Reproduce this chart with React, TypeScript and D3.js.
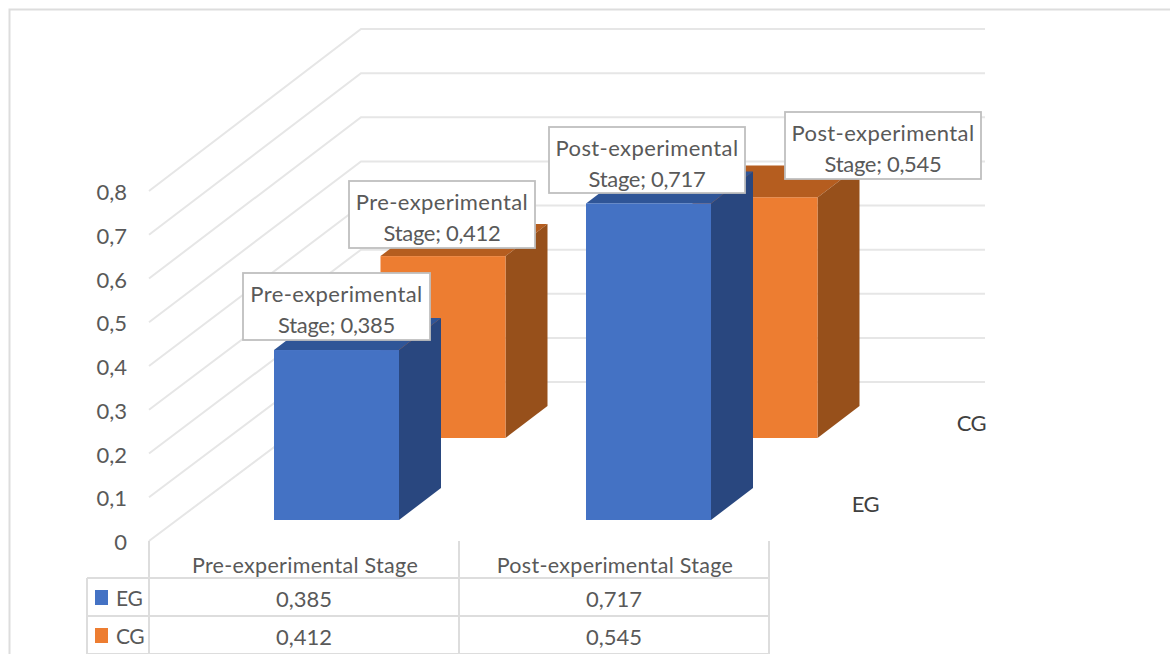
import React from "react";
import * as d3 from "d3";

const categories = ["Pre-experimental Stage", "Post-experimental Stage"];
const seriesNames = ["EG", "CG"];
const egValues = [0.385, 0.717];
const cgValues = [0.412, 0.545];
const yTicks = [0, 0.1, 0.2, 0.3, 0.4, 0.5, 0.6, 0.7, 0.8];
const valueLabels = ["0,385", "0,717"];
const cgValueLabels = ["0,412", "0,545"];
const tickLabels = ["0", "0,1", "0,2", "0,3", "0,4", "0,5", "0,6", "0,7", "0,8"];

const FONT = "Lato, 'Open Sans', sans-serif";
const GRID = "#E6E6E6";
const TEXT = "#595959";
const palette = {
  EG: { front: "#4472C4", top: "#2F5597", side: "#29477F" },
  CG: { front: "#ED7D31", top: "#B55D1F", side: "#97501B" },
} as Record<string, { front: string; top: string; side: string }>;

// layout of the pseudo-3D projection
const wallFront = d3.scaleLinear().domain([0, 0.8]).range([541, 191]);
const wallBack = d3.scaleLinear().domain([0, 0.8]).range([382, 29]);
const barHeight = d3.scaleLinear().domain([0, 1]).range([0, 441.5]);
const catX = d3.scalePoint<string>().domain(categories).range([274, 586]);
const seriesDx = d3.scalePoint<string>().domain(seriesNames).range([0, 106.5]);
const seriesBase = d3.scalePoint<string>().domain(seriesNames).range([520, 438]);
const tableX = d3.scalePoint<string>().domain([...categories, "end"]).range([149, 769]);
const BAR_W = 125;
const DX = 42;
const DY = -32;

// data label boxes: [left, top, right, bottom]
const egBoxes = [[243, 273, 430, 340], [549, 127, 745, 193]];
const cgBoxes = [[349, 181, 535, 248], [785, 112, 981, 179]];

function Bar({ name, cat, value }: { name: string; cat: string; value: number }) {
  const x0 = (catX(cat) as number) + (seriesDx(name) as number);
  const x1 = x0 + BAR_W;
  const yb = seriesBase(name) as number;
  const yt = yb - barHeight(value);
  const c = palette[name];
  const poly = d3.line();
  return (
    <g>
      <path d={poly([[x0, yt], [x1, yt], [x1 + DX, yt + DY], [x0 + DX, yt + DY]]) + "Z"} fill={c.top} />
      <path d={poly([[x1, yt], [x1 + DX, yt + DY], [x1 + DX, yb + DY], [x1, yb]]) + "Z"} fill={c.side} />
      <rect x={x0} y={yt} width={BAR_W} height={yb - yt} fill={c.front} />
    </g>
  );
}

function Label({ box, cat, value }: { box: number[]; cat: string; value: string }) {
  const [l, t, r, b] = box;
  const cx = (l + r) / 2;
  const first = cat.split(" ")[0];
  const second = cat.split(" ")[1] + "; " + value;
  return (
    <g>
      <rect x={l} y={t} width={r - l} height={b - t} fill="#fff" stroke="#BFBFBF" strokeWidth={1.8} />
      <text x={cx} y={t + 29} textAnchor="middle" fontSize={22} letterSpacing={0.4} fill={TEXT}>{first}</text>
      <text x={cx} y={t + 60} textAnchor="middle" fontSize={22} letterSpacing={-0.3} fill={TEXT}>{second}</text>
    </g>
  );
}

export default function App() {
  const xs = [...categories, "end"].map((k) => tableX(k) as number);
  const rowY = [578, 616, 654];
  return (
    <svg width={1170} height={654} viewBox="0 0 1170 654" fontFamily={FONT}
      style={{ position: "fixed", left: 0, top: 0, background: "#fff" }}>
      <path d="M9.5 654V9.5H1170" fill="none" stroke="#DDDDDD" strokeWidth={2} />

      {yTicks.map((t, i) => (
        <g key={t}>
          <path
            d={d3.line()([[149, wallFront(t)], [361, wallBack(t)], [985, wallBack(t)]]) as string}
            fill="none" stroke={GRID} strokeWidth={2} />
          <text x={127} y={wallFront(t) + 9} textAnchor="end" fontSize={22} fill={TEXT}>{tickLabels[i]}</text>
        </g>
      ))}

      {seriesNames.slice().reverse().map((s) => (
        <g key={s}>
          {categories.map((c, i) => (
            <Bar key={c} name={s} cat={c} value={(s === "EG" ? egValues : cgValues)[i]} />
          ))}
        </g>
      ))}

      {/* table */}
      <g stroke="#DDDDDD" strokeWidth={2}>
        {xs.map((x) => <line key={x} x1={x} x2={x} y1={541} y2={654} />)}
        <line x1={87} x2={87} y1={578} y2={654} />
        {rowY.map((y) => <line key={y} x1={87} x2={769} y1={y} y2={y} />)}
      </g>
      {categories.map((c, i) => {
        const cx = (xs[i] + xs[i + 1]) / 2;
        return (
          <g key={c} textAnchor="middle" fontSize={22} fill={TEXT}>
            <text x={cx + 1} y={573} fontSize={21.5} letterSpacing={0.3}>{c}</text>
            <text x={cx} y={607}>{valueLabels[i]}</text>
            <text x={cx} y={645}>{cgValueLabels[i]}</text>
          </g>
        );
      })}
      {seriesNames.map((s, i) => (
        <g key={s}>
          <rect x={95} y={590 + i * 38} width={13} height={15} fill={palette[s].front} />
          <text x={116} y={606 + i * 38} fontSize={21} fill={TEXT} letterSpacing={-0.4}>{s}</text>
        </g>
      ))}

      {/* series axis */}
      <text x={986} y={431} textAnchor="end" fontSize={22} letterSpacing={-0.6} fill="#404040">{seriesNames[1]}</text>
      <text x={879} y={512} textAnchor="end" fontSize={22} letterSpacing={-0.6} fill="#404040">{seriesNames[0]}</text>

      {categories.map((c, i) => <Label key={"e" + c} box={egBoxes[i]} cat={c} value={valueLabels[i]} />)}
      {categories.map((c, i) => <Label key={"c" + c} box={cgBoxes[i]} cat={c} value={cgValueLabels[i]} />)}
    </svg>
  );
}
